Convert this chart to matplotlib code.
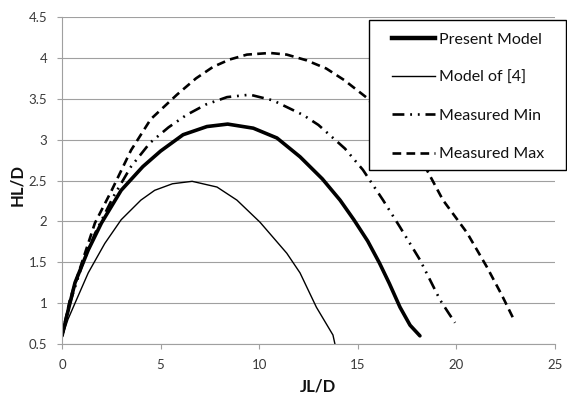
import matplotlib
matplotlib.use("Agg")
import matplotlib.pyplot as plt
from matplotlib.lines import Line2D
from matplotlib.patches import Rectangle

plt.rcParams['font.family'] = ['Lato', 'DejaVu Sans']

# curves (JL/D, HL/D)
present_x = [0, 0.3, 0.66, 1.33, 2.0, 3.0, 4.1, 5.0, 6.14, 7.35, 8.4, 9.7,
             10.9, 12.07, 13.2, 14.1, 14.8, 15.5, 16.1, 16.6, 17.14, 17.65, 18.15]
present_y = [0.6, 0.9, 1.25, 1.65, 1.98, 2.38, 2.67, 2.86, 3.06, 3.16, 3.19, 3.14,
             3.02, 2.79, 2.52, 2.26, 2.02, 1.76, 1.49, 1.24, 0.95, 0.73, 0.6]

model4_x = [0, 0.3, 0.66, 1.33, 2.17, 3.0, 4.0, 4.7, 5.6, 6.6, 7.86, 8.87,
            10.04, 11.4, 12.07, 12.9, 13.74, 13.84]
model4_y = [0.58, 0.8, 1.0, 1.37, 1.73, 2.02, 2.26, 2.38, 2.46, 2.49, 2.42, 2.26,
            1.99, 1.61, 1.37, 0.95, 0.61, 0.5]

min_x = [0, 0.4, 1.0, 1.67, 2.6, 3.5, 4.46, 5.4, 6.3, 7.3, 8.37, 9.53, 10.7,
         12.24, 13.0, 13.7, 14.35, 15.26, 16.28, 17.14, 18.15, 19.17, 19.6, 19.93]
min_y = [0.6, 1.0, 1.45, 1.85, 2.3, 2.67, 2.96, 3.15, 3.3, 3.43, 3.52, 3.55, 3.48,
         3.3, 3.18, 3.03, 2.89, 2.63, 2.26, 1.93, 1.53, 1.04, 0.88, 0.76]

max_x = [0, 0.4, 1.0, 1.67, 2.5, 3.5, 4.5, 5.83, 6.8, 7.66, 8.5, 9.38, 10.55,
         11.4, 12.4, 13.4, 14.3, 15.47, 18.5, 19.32, 20.54, 21.55, 22.3, 22.87]
max_y = [0.6, 1.04, 1.49, 1.98, 2.37, 2.87, 3.25, 3.55, 3.75, 3.89, 3.98, 4.04, 4.06,
         4.04, 3.97, 3.87, 3.73, 3.51, 2.63, 2.26, 1.86, 1.44, 1.1, 0.82]

labels = ["Present Model", "Model of [4]", "Measured Min", "Measured Max"]
x_ticks = [0, 5, 10, 15, 20, 25]
y_ticks = [0.5, 1, 1.5, 2, 2.5, 3, 3.5, 4, 4.5]

W, H = 567, 401
fig = plt.figure(figsize=(W / 100, H / 100), dpi=100)
ax = fig.add_axes([62 / W, 1 - 344 / H, 493 / W, 327 / H])

grid_c = "#a0a0a0"
ax.set_xlim(0, 25)
ax.set_ylim(0.5, 4.5)
ax.set_xticks(x_ticks)
ax.set_yticks(y_ticks)
ax.set_xticklabels([str(v) for v in x_ticks])
ax.set_yticklabels([f"{v:g}" for v in y_ticks])
ax.yaxis.grid(True, color=grid_c, lw=0.8)
ax.set_axisbelow(True)
for s in ["top", "right"]:
    ax.spines[s].set_visible(False)
for s in ["left", "bottom"]:
    ax.spines[s].set_color(grid_c)
    ax.spines[s].set_linewidth(0.8)
ax.tick_params(axis="both", colors=grid_c, length=3.6, width=0.8, labelsize=9.5,
               labelcolor="#3a3a3a")
ax.tick_params(axis="y", pad=7)
ax.tick_params(axis="x", pad=7)

lw_present, lw_model, lw_meas = 2.6, 1.0, 1.9
min_dash = (4.5, 2.2, 0.7, 2.2, 0.7, 2.2)
max_dash = (3.3, 2.0)
ax.plot(present_x, present_y, color="black", lw=lw_present,
        solid_capstyle="round", solid_joinstyle="round")
ax.plot(model4_x, model4_y, color="black", lw=lw_model)
ax.plot(min_x, min_y, color="black", lw=lw_meas, dashes=min_dash)
ax.plot(max_x, max_y, color="black", lw=lw_meas, dashes=max_dash)

ax.set_xlabel("JL/D", fontsize=12, fontweight="bold", color="#111111")
ax.set_ylabel("HL/D", fontsize=12, fontweight="bold", color="#111111")
ax.xaxis.set_label_coords(0.519, -0.105)
ax.yaxis.set_label_coords(-0.075, 0.486)

# legend box
box = Rectangle((369 / W, 1 - 170 / H), 197 / W, 150 / H, transform=fig.transFigure,
                facecolor="white", edgecolor="black", lw=1.0, zorder=3)
fig.patches.append(box)

handles = [
    Line2D([], [], color="black", lw=3.2),
    Line2D([], [], color="black", lw=lw_model),
    Line2D([], [], color="black", lw=lw_meas, dashes=min_dash),
    Line2D([], [], color="black", lw=lw_meas, dashes=max_dash),
]
leg = fig.legend(handles, labels, loc="upper left", bbox_to_anchor=(392 / W, 1 - 32.5 / H),
                 frameon=False, borderpad=0, borderaxespad=0, fontsize=11.5,
                 handlelength=2.7, handletextpad=0.25, labelspacing=1.5)
leg.set_zorder(4)
for t in leg.get_texts():
    t.set_color("#111111")

fig.savefig("out.png", dpi=100)
